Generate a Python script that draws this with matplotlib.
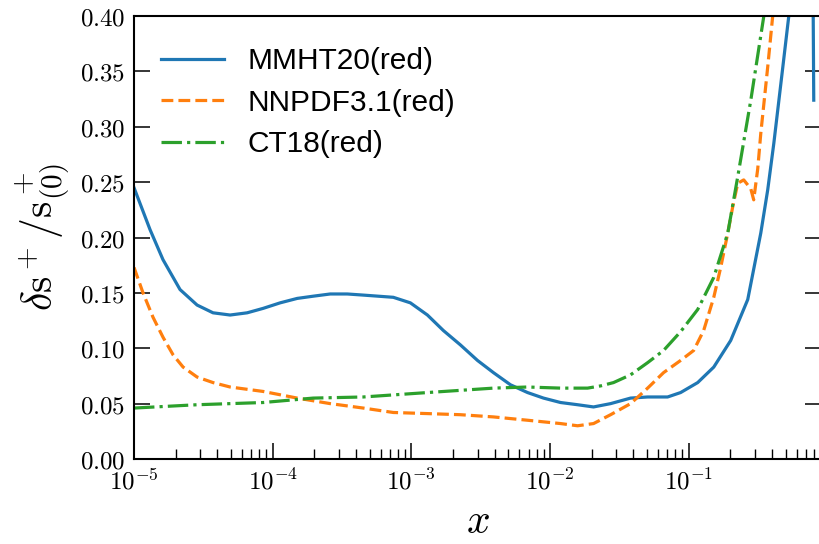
import numpy as np
import matplotlib
matplotlib.use("Agg")
import matplotlib.pyplot as plt
from matplotlib.ticker import FuncFormatter, LogLocator, NullFormatter, MultipleLocator

# curves: log10(x) and delta s+ / s+(0)
mmht_logx = [-5.000, -4.884, -4.791, -4.668, -4.545, -4.430, -4.307, -4.184, -4.069, -3.946,
             -3.823, -3.708, -3.585, -3.462, -3.347, -3.130, -3.007, -2.884, -2.769, -2.646,
             -2.523, -2.408, -2.285, -2.162, -2.047, -1.924, -1.801, -1.686, -1.563, -1.419,
             -1.296, -1.152, -1.058, -0.935, -0.819, -0.697, -0.574, -0.480, -0.430, -0.386,
             -0.321, -0.278, -0.200, -0.130, -0.103, -0.098]
mmht_val = [0.245, 0.207, 0.180, 0.153, 0.139, 0.132, 0.130, 0.132, 0.136, 0.141,
            0.145, 0.147, 0.149, 0.149, 0.148, 0.146, 0.141, 0.130, 0.116, 0.103,
            0.089, 0.078, 0.067, 0.060, 0.055, 0.051, 0.049, 0.047, 0.050, 0.055,
            0.056, 0.056, 0.060, 0.069, 0.083, 0.107, 0.144, 0.204, 0.243, 0.285,
            0.354, 0.400, 0.700, 0.900, 0.420, 0.324]

nnpdf_logx = [-5.000, -4.935, -4.863, -4.791, -4.718, -4.646, -4.545, -4.430, -4.307, -4.069,
              -3.823, -3.585, -3.347, -3.130, -2.884, -2.646, -2.408, -2.162, -1.924, -1.801,
              -1.686, -1.563, -1.419, -1.296, -1.181, -1.058, -0.964, -0.892, -0.819, -0.769,
              -0.718, -0.682, -0.646, -0.603, -0.552, -0.531, -0.502, -0.480, -0.430, -0.394,
              -0.300]
nnpdf_val = [0.173, 0.150, 0.128, 0.110, 0.094, 0.083, 0.074, 0.069, 0.065, 0.061,
             0.055, 0.050, 0.046, 0.042, 0.041, 0.040, 0.038, 0.035, 0.032, 0.030,
             0.032, 0.040, 0.050, 0.064, 0.078, 0.089, 0.098, 0.116, 0.146, 0.173,
             0.204, 0.228, 0.249, 0.252, 0.244, 0.234, 0.262, 0.294, 0.354, 0.400,
             0.600]

ct18_logx = [-5.000, -4.545, -4.069, -3.708, -3.347, -2.884, -2.408, -2.162, -1.924, -1.729,
             -1.635, -1.542, -1.419, -1.296, -1.181, -1.058, -0.935, -0.819, -0.718, -0.646,
             -0.552, -0.458, -0.350]
ct18_val = [0.046, 0.049, 0.051, 0.055, 0.056, 0.060, 0.064, 0.065, 0.064, 0.064,
            0.066, 0.069, 0.076, 0.087, 0.098, 0.115, 0.135, 0.164, 0.204, 0.255,
            0.324, 0.400, 0.550]

labels = ["MMHT20(red)", "NNPDF3.1(red)", "CT18(red)"]

plt.rcParams["mathtext.fontset"] = "cm"
plt.rcParams["font.family"] = ["Liberation Sans", "DejaVu Sans"]

fig = plt.figure(figsize=(8.2, 5.44), dpi=100)
ax = fig.add_axes([134 / 820, 1 - 459 / 544, 687 / 820, 443 / 544])

lw = 2.3
ax.plot(np.power(10.0, mmht_logx), mmht_val, color="#1f77b4", lw=lw, ls="-", label=labels[0])
ax.plot(np.power(10.0, nnpdf_logx), nnpdf_val, color="#ff7f0e", lw=lw, ls="--", label=labels[1])
ax.plot(np.power(10.0, ct18_logx), ct18_val, color="#2ca02c", lw=lw, ls="-.", label=labels[2])

ax.set_xscale("log")
ax.set_xlim(1e-5, 0.9)
ax.set_ylim(0, 0.4)
ax.yaxis.set_major_locator(MultipleLocator(0.05))
ax.xaxis.set_major_locator(LogLocator(base=10, numticks=10))
ax.xaxis.set_minor_locator(LogLocator(base=10, subs=np.arange(2, 10), numticks=10))
ax.xaxis.set_minor_formatter(NullFormatter())
ax.xaxis.set_major_formatter(FuncFormatter(lambda v, p: r"$10^{%d}$" % round(np.log10(v))))
ax.yaxis.set_major_formatter(FuncFormatter(lambda v, p: r"$%.2f$" % v))

ax.tick_params(axis="both", which="major", direction="in", length=11.5, width=1.1, labelsize=18)
ax.tick_params(axis="x", which="major", pad=7)
ax.tick_params(axis="x", which="minor", direction="in", length=7, width=1.0)
ax.tick_params(axis="y", which="major", right=True, pad=6)
for s in ax.spines.values():
    s.set_linewidth(1.5)

ax.set_xlabel(r"$x$", fontsize=30, labelpad=5)
ax.set_ylabel(r"$\delta\mathrm{s}^+/\mathrm{s}^+_{(0)}$", fontsize=30, labelpad=6)

ax.legend(loc="upper left", bbox_to_anchor=(0.0, 0.99), frameon=False, fontsize=21.5,
          handlelength=2.1, handletextpad=0.8, labelspacing=0.45)

fig.savefig("out.png", dpi=100)
